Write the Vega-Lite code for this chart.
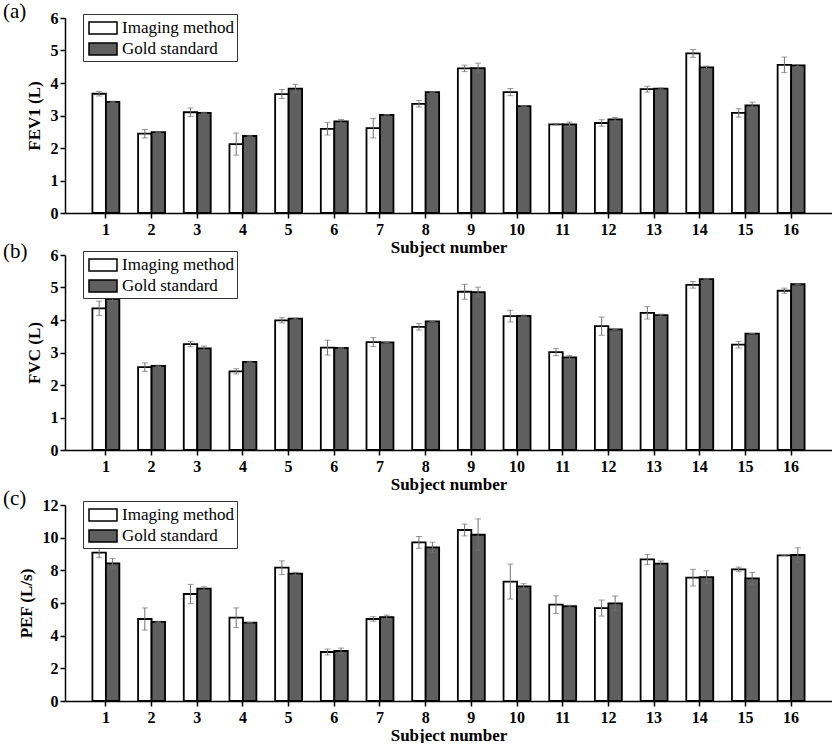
{
"$schema": "https://vega.github.io/schema/vega-lite/v6.json",
"padding": {"left": 3, "top": 1, "right": 0, "bottom": 0},
"background": "white",
"datasets": {
"fev1": [
{"subject":1,"method":"Imaging method","value":3.67,"lo":3.60,"hi":3.74},
{"subject":1,"method":"Gold standard","value":3.42,"lo":3.40,"hi":3.44},
{"subject":2,"method":"Imaging method","value":2.44,"lo":2.31,"hi":2.57},
{"subject":2,"method":"Gold standard","value":2.49,"lo":2.49,"hi":2.49},
{"subject":3,"method":"Imaging method","value":3.10,"lo":2.97,"hi":3.23},
{"subject":3,"method":"Gold standard","value":3.08,"lo":3.06,"hi":3.10},
{"subject":4,"method":"Imaging method","value":2.12,"lo":1.78,"hi":2.46},
{"subject":4,"method":"Gold standard","value":2.37,"lo":2.35,"hi":2.39},
{"subject":5,"method":"Imaging method","value":3.66,"lo":3.52,"hi":3.80},
{"subject":5,"method":"Gold standard","value":3.83,"lo":3.70,"hi":3.96},
{"subject":6,"method":"Imaging method","value":2.59,"lo":2.40,"hi":2.78},
{"subject":6,"method":"Gold standard","value":2.82,"lo":2.76,"hi":2.88},
{"subject":7,"method":"Imaging method","value":2.61,"lo":2.31,"hi":2.91},
{"subject":7,"method":"Gold standard","value":3.02,"lo":3.02,"hi":3.02},
{"subject":8,"method":"Imaging method","value":3.36,"lo":3.26,"hi":3.46},
{"subject":8,"method":"Gold standard","value":3.72,"lo":3.72,"hi":3.72},
{"subject":9,"method":"Imaging method","value":4.45,"lo":4.35,"hi":4.55},
{"subject":9,"method":"Gold standard","value":4.46,"lo":4.31,"hi":4.61},
{"subject":10,"method":"Imaging method","value":3.72,"lo":3.61,"hi":3.83},
{"subject":10,"method":"Gold standard","value":3.29,"lo":3.29,"hi":3.29},
{"subject":11,"method":"Imaging method","value":2.73,"lo":2.71,"hi":2.75},
{"subject":11,"method":"Gold standard","value":2.73,"lo":2.66,"hi":2.80},
{"subject":12,"method":"Imaging method","value":2.77,"lo":2.67,"hi":2.87},
{"subject":12,"method":"Gold standard","value":2.88,"lo":2.82,"hi":2.94},
{"subject":13,"method":"Imaging method","value":3.81,"lo":3.72,"hi":3.90},
{"subject":13,"method":"Gold standard","value":3.83,"lo":3.81,"hi":3.85},
{"subject":14,"method":"Imaging method","value":4.91,"lo":4.79,"hi":5.03},
{"subject":14,"method":"Gold standard","value":4.48,"lo":4.44,"hi":4.52},
{"subject":15,"method":"Imaging method","value":3.08,"lo":2.95,"hi":3.21},
{"subject":15,"method":"Gold standard","value":3.31,"lo":3.21,"hi":3.41},
{"subject":16,"method":"Imaging method","value":4.56,"lo":4.32,"hi":4.80},
{"subject":16,"method":"Gold standard","value":4.54,"lo":4.51,"hi":4.57}
],
"fvc": [
{"subject":1,"method":"Imaging method","value":4.36,"lo":4.14,"hi":4.58},
{"subject":1,"method":"Gold standard","value":4.65,"lo":4.60,"hi":4.70},
{"subject":2,"method":"Imaging method","value":2.55,"lo":2.42,"hi":2.68},
{"subject":2,"method":"Gold standard","value":2.59,"lo":2.57,"hi":2.61},
{"subject":3,"method":"Imaging method","value":3.26,"lo":3.18,"hi":3.34},
{"subject":3,"method":"Gold standard","value":3.13,"lo":3.06,"hi":3.20},
{"subject":4,"method":"Imaging method","value":2.42,"lo":2.34,"hi":2.50},
{"subject":4,"method":"Gold standard","value":2.71,"lo":2.69,"hi":2.73},
{"subject":5,"method":"Imaging method","value":3.99,"lo":3.91,"hi":4.07},
{"subject":5,"method":"Gold standard","value":4.04,"lo":4.02,"hi":4.06},
{"subject":6,"method":"Imaging method","value":3.15,"lo":2.92,"hi":3.38},
{"subject":6,"method":"Gold standard","value":3.14,"lo":3.13,"hi":3.15},
{"subject":7,"method":"Imaging method","value":3.32,"lo":3.18,"hi":3.46},
{"subject":7,"method":"Gold standard","value":3.31,"lo":3.30,"hi":3.32},
{"subject":8,"method":"Imaging method","value":3.79,"lo":3.69,"hi":3.89},
{"subject":8,"method":"Gold standard","value":3.96,"lo":3.95,"hi":3.97},
{"subject":9,"method":"Imaging method","value":4.87,"lo":4.64,"hi":5.10},
{"subject":9,"method":"Gold standard","value":4.86,"lo":4.71,"hi":5.01},
{"subject":10,"method":"Imaging method","value":4.12,"lo":3.94,"hi":4.30},
{"subject":10,"method":"Gold standard","value":4.13,"lo":4.11,"hi":4.15},
{"subject":11,"method":"Imaging method","value":3.01,"lo":2.90,"hi":3.12},
{"subject":11,"method":"Gold standard","value":2.85,"lo":2.79,"hi":2.91},
{"subject":12,"method":"Imaging method","value":3.81,"lo":3.53,"hi":4.09},
{"subject":12,"method":"Gold standard","value":3.71,"lo":3.70,"hi":3.72},
{"subject":13,"method":"Imaging method","value":4.22,"lo":4.03,"hi":4.41},
{"subject":13,"method":"Gold standard","value":4.15,"lo":4.12,"hi":4.18},
{"subject":14,"method":"Imaging method","value":5.08,"lo":4.98,"hi":5.18},
{"subject":14,"method":"Gold standard","value":5.26,"lo":5.26,"hi":5.26},
{"subject":15,"method":"Imaging method","value":3.24,"lo":3.14,"hi":3.34},
{"subject":15,"method":"Gold standard","value":3.58,"lo":3.58,"hi":3.58},
{"subject":16,"method":"Imaging method","value":4.90,"lo":4.82,"hi":4.98},
{"subject":16,"method":"Gold standard","value":5.10,"lo":5.10,"hi":5.10}
],
"pef": [
{"subject":1,"method":"Imaging method","value":9.08,"lo":8.78,"hi":9.38},
{"subject":1,"method":"Gold standard","value":8.43,"lo":8.14,"hi":8.72},
{"subject":2,"method":"Imaging method","value":5.02,"lo":4.34,"hi":5.70},
{"subject":2,"method":"Gold standard","value":4.84,"lo":4.80,"hi":4.88},
{"subject":3,"method":"Imaging method","value":6.55,"lo":5.96,"hi":7.14},
{"subject":3,"method":"Gold standard","value":6.88,"lo":6.77,"hi":6.99},
{"subject":4,"method":"Imaging method","value":5.10,"lo":4.50,"hi":5.70},
{"subject":4,"method":"Gold standard","value":4.80,"lo":4.79,"hi":4.81},
{"subject":5,"method":"Imaging method","value":8.16,"lo":7.74,"hi":8.58},
{"subject":5,"method":"Gold standard","value":7.80,"lo":7.72,"hi":7.88},
{"subject":6,"method":"Imaging method","value":3.00,"lo":2.82,"hi":3.18},
{"subject":6,"method":"Gold standard","value":3.06,"lo":2.88,"hi":3.24},
{"subject":7,"method":"Imaging method","value":5.02,"lo":4.88,"hi":5.16},
{"subject":7,"method":"Gold standard","value":5.14,"lo":5.02,"hi":5.26},
{"subject":8,"method":"Imaging method","value":9.71,"lo":9.35,"hi":10.07},
{"subject":8,"method":"Gold standard","value":9.41,"lo":9.10,"hi":9.72},
{"subject":9,"method":"Imaging method","value":10.47,"lo":10.11,"hi":10.83},
{"subject":9,"method":"Gold standard","value":10.18,"lo":9.21,"hi":11.15},
{"subject":10,"method":"Imaging method","value":7.31,"lo":6.24,"hi":8.38},
{"subject":10,"method":"Gold standard","value":7.02,"lo":6.86,"hi":7.18},
{"subject":11,"method":"Imaging method","value":5.90,"lo":5.36,"hi":6.44},
{"subject":11,"method":"Gold standard","value":5.80,"lo":5.74,"hi":5.86},
{"subject":12,"method":"Imaging method","value":5.69,"lo":5.20,"hi":6.18},
{"subject":12,"method":"Gold standard","value":5.98,"lo":5.53,"hi":6.43},
{"subject":13,"method":"Imaging method","value":8.67,"lo":8.36,"hi":8.98},
{"subject":13,"method":"Gold standard","value":8.41,"lo":8.25,"hi":8.57},
{"subject":14,"method":"Imaging method","value":7.55,"lo":7.04,"hi":8.06},
{"subject":14,"method":"Gold standard","value":7.59,"lo":7.21,"hi":7.97},
{"subject":15,"method":"Imaging method","value":8.06,"lo":7.92,"hi":8.20},
{"subject":15,"method":"Gold standard","value":7.51,"lo":7.15,"hi":7.87},
{"subject":16,"method":"Imaging method","value":8.92,"lo":8.89,"hi":8.95},
{"subject":16,"method":"Gold standard","value":8.94,"lo":8.50,"hi":9.38}
]
},
"spacing": -4,
"resolve": {"scale": {"fill": "independent", "y": "independent", "x": "independent"}, "legend": {"fill": "independent"}},
"vconcat": [
{
"spacing": -28,
"resolve": {"scale": {"fill": "independent", "y": "independent", "x": "independent"}, "legend": {"fill": "independent"}},
"vconcat": [
{
"data": {"name": "fev1"},
"title": {"text": "(a)"},
"width": 767, "height": 195,
"encoding": {
"x": {"field": "subject", "type": "ordinal", "title": "Subject number", "scale": {"paddingInner": 0.41, "paddingOuter": 0.6}},
"xOffset": {"field": "method", "type": "nominal", "sort": ["Imaging method", "Gold standard"]}
},
"layer": [
{"mark": {"type": "bar", "stroke": "black", "strokeWidth": 1.8},
"encoding": {
"y": {"field": "value", "type": "quantitative", "title": "FEV1 (L)", "scale": {"domain": [0, 6]}, "axis": {"values": [0,1,2,3,4,5,6]}},
"fill": {"field": "method", "type": "nominal", "sort": ["Imaging method", "Gold standard"], "scale": {"domain": ["Imaging method", "Gold standard"], "range": ["white", "#5f5f5f"]}, "legend": {"title": null}}
}},
{"mark": {"type": "rule", "color": "#707070", "strokeWidth": 1},
"encoding": {"y": {"field": "lo", "type": "quantitative", "title": "FEV1 (L)", "axis": {"values": [0,1,2,3,4,5,6]}}, "y2": {"field": "hi"}}},
{"mark": {"type": "tick", "orient": "horizontal", "color": "#707070", "size": 6, "thickness": 1},
"encoding": {"y": {"field": "lo", "type": "quantitative", "title": "FEV1 (L)", "axis": {"values": [0,1,2,3,4,5,6]}}}},
{"mark": {"type": "tick", "orient": "horizontal", "color": "#707070", "size": 6, "thickness": 1},
"encoding": {"y": {"field": "hi", "type": "quantitative", "title": "FEV1 (L)", "axis": {"values": [0,1,2,3,4,5,6]}}}}
]
},
{
"data": {"name": "fvc"},
"title": {"text": "(b)", "offset": -15},
"width": 767, "height": 195,
"encoding": {
"x": {"field": "subject", "type": "ordinal", "title": "Subject number", "scale": {"paddingInner": 0.41, "paddingOuter": 0.6}},
"xOffset": {"field": "method", "type": "nominal", "sort": ["Imaging method", "Gold standard"]}
},
"layer": [
{"mark": {"type": "bar", "stroke": "black", "strokeWidth": 1.8},
"encoding": {
"y": {"field": "value", "type": "quantitative", "title": "FVC (L)", "scale": {"domain": [0, 6]}, "axis": {"values": [0,1,2,3,4,5,6]}},
"fill": {"field": "method", "type": "nominal", "sort": ["Imaging method", "Gold standard"], "scale": {"domain": ["Imaging method", "Gold standard"], "range": ["white", "#5f5f5f"]}, "legend": {"title": null}}
}},
{"mark": {"type": "rule", "color": "#707070", "strokeWidth": 1},
"encoding": {"y": {"field": "lo", "type": "quantitative", "title": "FVC (L)", "axis": {"values": [0,1,2,3,4,5,6]}}, "y2": {"field": "hi"}}},
{"mark": {"type": "tick", "orient": "horizontal", "color": "#707070", "size": 6, "thickness": 1},
"encoding": {"y": {"field": "lo", "type": "quantitative", "title": "FVC (L)", "axis": {"values": [0,1,2,3,4,5,6]}}}},
{"mark": {"type": "tick", "orient": "horizontal", "color": "#707070", "size": 6, "thickness": 1},
"encoding": {"y": {"field": "hi", "type": "quantitative", "title": "FVC (L)", "axis": {"values": [0,1,2,3,4,5,6]}}}}
]
}
]
},
{
"data": {"name": "pef"},
"title": {"text": "(c)"},
"width": 767, "height": 196,
"encoding": {
"x": {"field": "subject", "type": "ordinal", "title": "Subject number", "scale": {"paddingInner": 0.41, "paddingOuter": 0.6}},
"xOffset": {"field": "method", "type": "nominal", "sort": ["Imaging method", "Gold standard"]}
},
"layer": [
{"mark": {"type": "bar", "stroke": "black", "strokeWidth": 1.8},
"encoding": {
"y": {"field": "value", "type": "quantitative", "title": "PEF (L/s)", "scale": {"domain": [0, 12]}, "axis": {"values": [0,2,4,6,8,10,12]}},
"fill": {"field": "method", "type": "nominal", "sort": ["Imaging method", "Gold standard"], "scale": {"domain": ["Imaging method", "Gold standard"], "range": ["white", "#5f5f5f"]}, "legend": {"title": null}}
}},
{"mark": {"type": "rule", "color": "#707070", "strokeWidth": 1},
"encoding": {"y": {"field": "lo", "type": "quantitative", "title": "PEF (L/s)", "axis": {"values": [0,2,4,6,8,10,12]}}, "y2": {"field": "hi"}}},
{"mark": {"type": "tick", "orient": "horizontal", "color": "#707070", "size": 6, "thickness": 1},
"encoding": {"y": {"field": "lo", "type": "quantitative", "title": "PEF (L/s)", "axis": {"values": [0,2,4,6,8,10,12]}}}},
{"mark": {"type": "tick", "orient": "horizontal", "color": "#707070", "size": 6, "thickness": 1},
"encoding": {"y": {"field": "hi", "type": "quantitative", "title": "PEF (L/s)", "axis": {"values": [0,2,4,6,8,10,12]}}}}
]
}
],
"config": {
"view": {"stroke": null},
"font": "Liberation Serif",
"title": {"anchor": "start", "frame": "group", "dx": -62, "offset": -12, "fontSize": 21, "fontWeight": "normal", "font": "Liberation Serif", "color": "black"},
"axis": {"domainColor": "black", "domainWidth": 1.5, "tickColor": "black", "tickWidth": 1.5, "tickSize": 5, "labelFont": "Liberation Serif", "labelFontWeight": "bold", "labelFontSize": 16, "labelColor": "black", "titleFont": "Liberation Serif", "titleFontWeight": "bold", "titleFontSize": 17, "titleColor": "black", "grid": false},
"axisX": {"labelAngle": 0, "labelPadding": 3, "titlePadding": 2},
"axisY": {"titlePadding": 7},
"legend": {"orient": "none", "legendX": 18, "legendY": -4, "strokeColor": "#333", "strokeWidth": 1, "padding": 3, "symbolType": "M-1.4,-0.6L1.4,-0.6L1.4,0.6L-1.4,0.6Z", "symbolSize": 400, "symbolOffset": 6, "symbolFillColor": "white", "symbolStrokeColor": "black", "symbolStrokeWidth": 1.5, "labelFont": "Liberation Serif", "labelFontSize": 17, "labelColor": "black", "labelOffset": 8, "rowPadding": 1, "fillColor": "white"}
}
}
